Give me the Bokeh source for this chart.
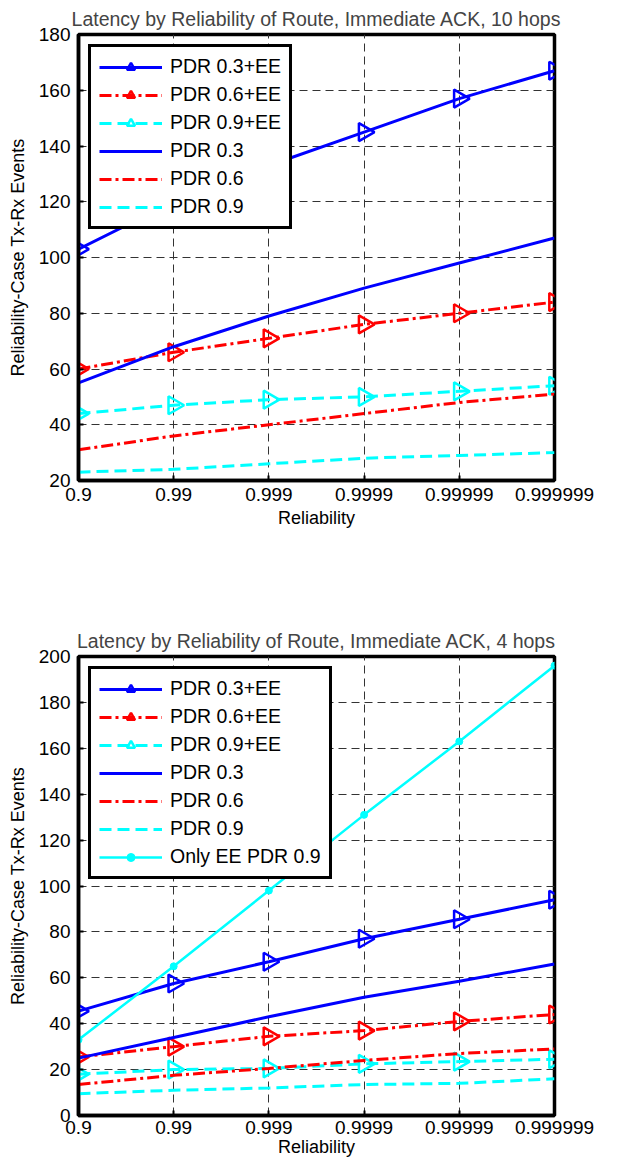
import math
from bokeh.plotting import figure
from bokeh.layouts import column
from bokeh.models import Range1d, FixedTicker
from bokeh.embed import file_html
from bokeh.resources import INLINE

x_labels = ["0.9", "0.99", "0.999", "0.9999", "0.99999", "0.999999"]

# Top chart: 10 hops
h10_pdr03_ee = [103, 120, 133, 145, 157, 167]
h10_pdr06_ee = [60, 66, 71, 76, 80, 84]
h10_pdr09_ee = [44, 47, 49, 50, 52, 54]
h10_pdr03 = [55, 68, 79, 89, 98, 107]
h10_pdr06 = [31, 36, 40, 44, 48, 51]
h10_pdr09 = [23, 24, 26, 28, 29, 30]

# Bottom chart: 4 hops
h4_pdr03_ee = [45.5, 57.5, 67, 77, 85.5, 94]
h4_pdr06_ee = [25.5, 30, 34.5, 37, 41, 44]
h4_pdr09_ee = [18, 20, 20.5, 22.5, 23.5, 24.5]
h4_pdr03 = [25, 34, 43, 51.5, 58.5, 66]
h4_pdr06 = [13.5, 17.5, 20.5, 24, 27, 29]
h4_pdr09 = [9.5, 11, 12, 13.5, 14, 16]
h4_only_ee = [33, 65, 98, 131, 163, 196]

FONT = "Liberation Sans"
BLUE = "#0000ff"
RED = "#ff0000"
CYAN = "#00ffff"


def make_fig(title, ymin, ymax, height, top, bottom, tl_standoff, xl_standoff):
    p = figure(width=615, height=height, output_backend="svg", toolbar_location=None,
               x_range=Range1d(0, len(x_labels) - 1), y_range=Range1d(ymin, ymax),
               min_border_left=78, min_border_right=61, min_border_top=top,
               min_border_bottom=bottom, title=title)
    p.title.text_font = FONT
    p.title.text_font_size = "19.5px"
    p.title.text_font_style = "normal"
    p.title.align = "center"
    p.title.standoff = 10
    p.outline_line_color = "black"
    p.outline_line_width = 3.5
    p.background_fill_color = "white"
    p.border_fill_color = "white"
    xs = list(range(len(x_labels)))
    p.xaxis.ticker = FixedTicker(ticks=xs)
    p.xaxis.major_label_overrides = {i: lab for i, lab in enumerate(x_labels)}
    p.yaxis.ticker = FixedTicker(ticks=list(range(ymin, ymax + 1, 20)))
    for ax in (p.xaxis, p.yaxis):
        ax.axis_line_width = 3.5
        ax.axis_line_color = "black"
        ax.major_tick_in = 5
        ax.major_tick_out = 0
        ax.major_tick_line_width = 2
        ax.minor_tick_line_color = None
        ax.major_label_text_font = FONT
        ax.major_label_text_font_size = "19px"
        ax.major_label_text_color = "black"
        ax.axis_label_text_font = FONT
        ax.axis_label_text_font_size = "18px"
        ax.axis_label_text_font_style = "normal"
        ax.axis_label_text_color = "black"
    p.xaxis.axis_label = "Reliability"
    p.yaxis.axis_label = "Reliability-Case Tx-Rx Events"
    p.xaxis.major_label_standoff = tl_standoff
    p.xaxis.axis_label_standoff = xl_standoff
    p.yaxis.major_label_standoff = 8
    p.yaxis.axis_label_standoff = 8
    for g in (p.xgrid, p.ygrid):
        g.grid_line_color = "#333333"
        g.grid_line_dash = "8 5"
        g.grid_line_width = 1
    return p, xs


def add_series(p, xs, ys, color, dash, label, marker):
    p.line(xs, ys, line_color=color, line_width=3, line_dash=dash, legend_label=label)
    if marker:
        p.scatter(xs, ys, marker="triangle", size=18, angle=-math.pi / 2,
                  fill_color=None, line_color=color, line_width=2.5, legend_label=label)


def style_legend(p):
    lg = p.legend[0]
    lg.location = "top_left"
    lg.margin = 10
    lg.border_line_color = "black"
    lg.border_line_alpha = 1
    lg.border_line_width = 3.5
    lg.label_text_font = FONT
    lg.label_text_font_size = "19.5px"
    lg.label_text_color = "black"
    lg.glyph_width = 63
    lg.glyph_height = 20
    lg.label_height = 20
    lg.spacing = 5
    lg.padding = 8
    lg.label_standoff = 8
    lg.background_fill_alpha = 1


DASHDOT = "12 4 3 4"
DASHED = "12 6"

p1, xs = make_fig("Latency by Reliability of Route, Immediate ACK, 10 hops", 20, 180, 570, 26, 90, 7, 4)
add_series(p1, xs, h10_pdr03_ee, BLUE, "solid", "PDR 0.3+EE", True)
add_series(p1, xs, h10_pdr06_ee, RED, DASHDOT, "PDR 0.6+EE", True)
add_series(p1, xs, h10_pdr09_ee, CYAN, DASHED, "PDR 0.9+EE", True)
add_series(p1, xs, h10_pdr03, BLUE, "solid", "PDR 0.3", False)
add_series(p1, xs, h10_pdr06, RED, DASHDOT, "PDR 0.6", False)
add_series(p1, xs, h10_pdr09, CYAN, DASHED, "PDR 0.9", False)
style_legend(p1)

p2, xs = make_fig("Latency by Reliability of Route, Immediate ACK, 4 hops", 0, 200, 593, 86, 48, 5, 0)
add_series(p2, xs, h4_pdr03_ee, BLUE, "solid", "PDR 0.3+EE", True)
add_series(p2, xs, h4_pdr06_ee, RED, DASHDOT, "PDR 0.6+EE", True)
add_series(p2, xs, h4_pdr09_ee, CYAN, DASHED, "PDR 0.9+EE", True)
add_series(p2, xs, h4_pdr03, BLUE, "solid", "PDR 0.3", False)
add_series(p2, xs, h4_pdr06, RED, DASHDOT, "PDR 0.6", False)
add_series(p2, xs, h4_pdr09, CYAN, DASHED, "PDR 0.9", False)
p2.line(xs, h4_only_ee, line_color=CYAN, line_width=2.5, legend_label="Only EE PDR 0.9")
p2.scatter(xs, h4_only_ee, marker="circle", size=7, fill_color=CYAN, line_color=CYAN,
           legend_label="Only EE PDR 0.9")
style_legend(p2)

layout = column(p1, p2, spacing=0)
open("out.html", "w").write(file_html(layout, INLINE))
